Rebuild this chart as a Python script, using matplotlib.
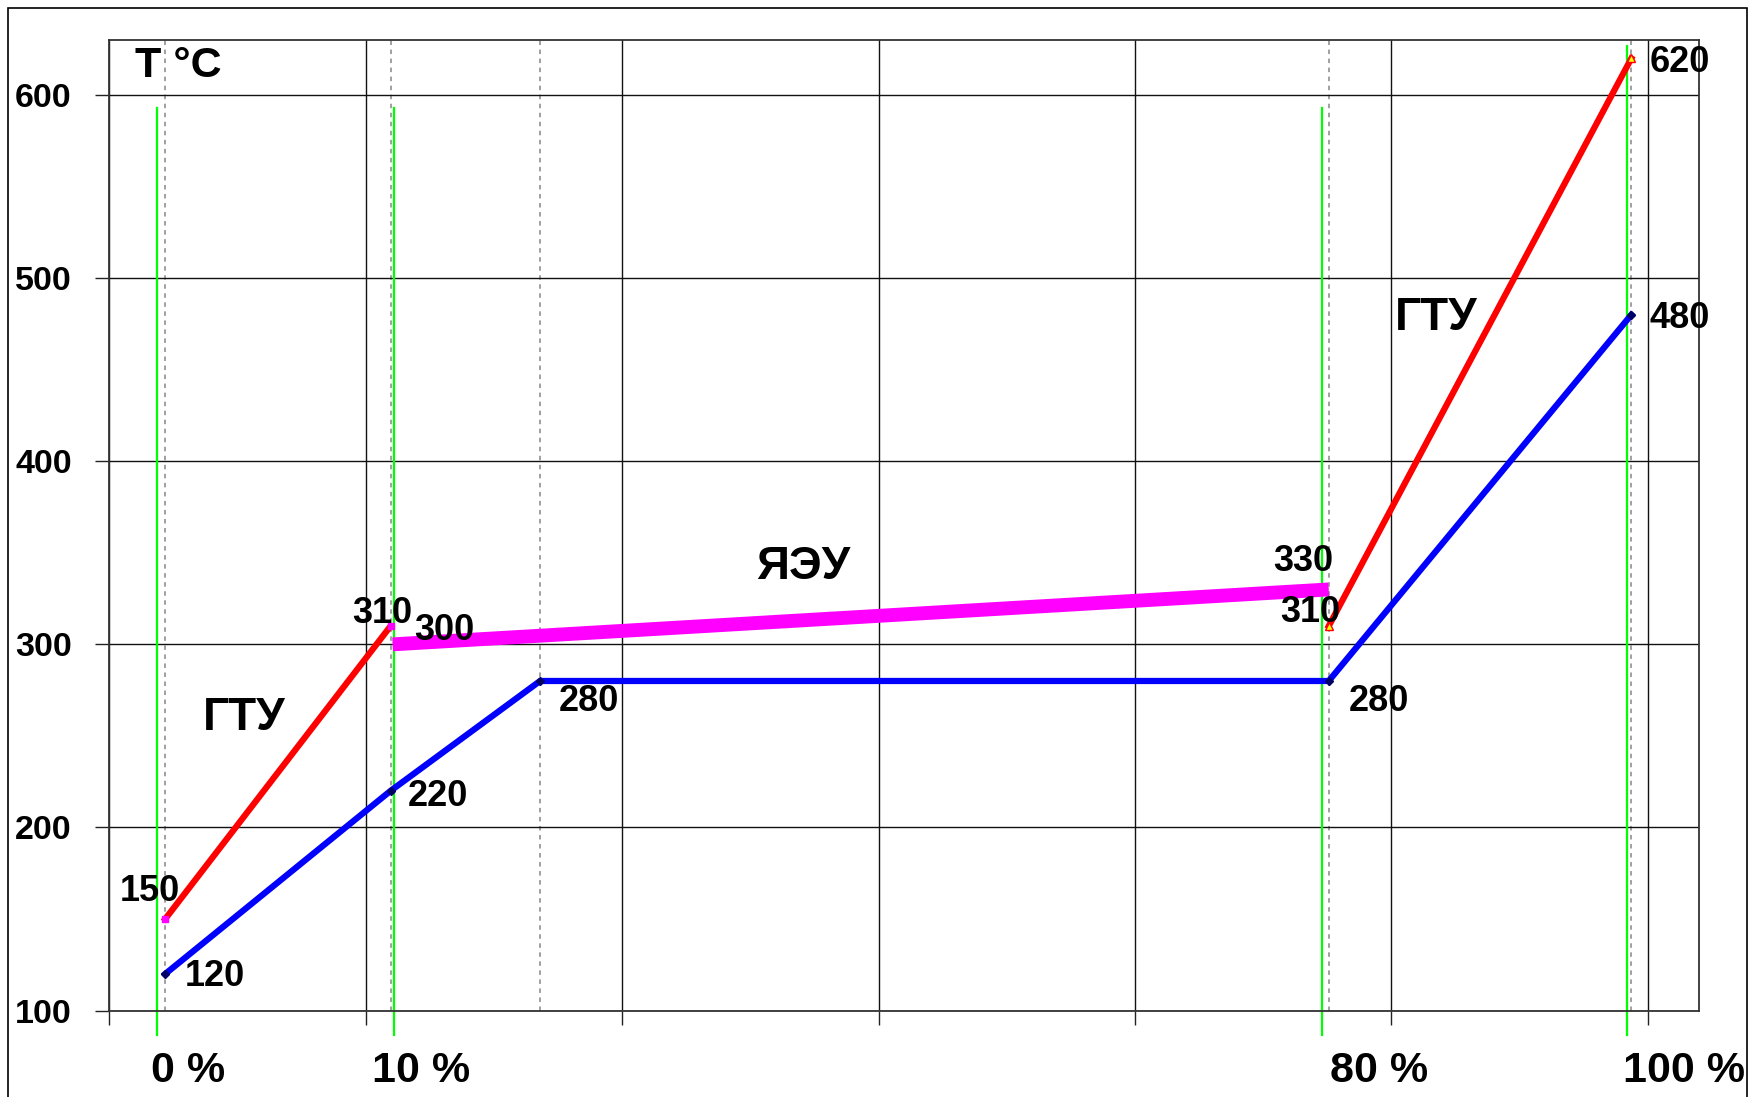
import numpy as np
import matplotlib.pyplot as plt
from matplotlib.patches import Rectangle
from matplotlib.transforms import blended_transform_factory

plt.rcParams['font.family'] = ['Liberation Sans', 'DejaVu Sans']
plt.rcParams['font.weight'] = 'bold'

# x positions of the stations (one grid step = 1)
x_pts = [0.218, 1.097, 1.68, 4.756, 5.936]

gtu1_x = [x_pts[0], x_pts[1]]
gtu1_t = [150, 310]
yaeu_x = [1.105, x_pts[3]]
yaeu_t = [300, 330]
gtu2_x = [x_pts[3], x_pts[4]]
gtu2_t = [310, 620]
water_x = x_pts
water_t = [120, 220, 280, 280, 480]

green_x = [0.187, 1.11, 4.73, 5.919]
green_top = [593, 593, 593, 627]
green_bot = 86.6

pct_x = [0.161, 1.023, 4.761, 5.905]
pct_labels = ['0 %', '10 %', '80 %', '100 %']

# value labels: (x, y, text, dx, dy) offsets in points
val_labels = [
    (gtu1_x[0], gtu1_t[0], '150', -11, 20),
    (water_x[0], water_t[0], '120', 36, -2),
    (gtu1_x[1], gtu1_t[1], '310', -6, 9),
    (yaeu_x[0], yaeu_t[0], '300', 37, 10),
    (water_x[1], water_t[1], '220', 34, -4),
    (water_x[2], water_t[2], '280', 35, -15),
    (yaeu_x[1], yaeu_t[1], '330', -18, 20),
    (gtu2_x[0], gtu2_t[0], '310', -13, 10),
    (water_x[3], water_t[3], '280', 36, -15),
    (gtu2_x[1], gtu2_t[1], '620', 35, -3),
    (water_x[4], water_t[4], '480', 35, -3),
]

fig = plt.figure(figsize=(17.49, 10.97), dpi=100)
fig.patches.append(Rectangle((0.0043, -0.02), 0.9946, 1.0127, transform=fig.transFigure,
                             fill=False, ec='black', lw=1.2))
ax = fig.add_axes([0.0625, 0.0788, 0.9089, 0.8846])

ax.set_xlim(0, 6.2)
ax.set_ylim(100, 630)
ax.set_xticks(range(7))
ax.set_yticks(range(100, 601, 100))
ax.grid(True, color='#111111', lw=1.0, zorder=0)
ax.tick_params(direction='out', length=10, width=1, color='#222222', labelsize=24.5, pad=17,
               labelbottom=False)
for s in ax.spines.values():
    s.set_color('#333333')
    s.set_linewidth(1.3)

for x in x_pts:
    ax.axvline(x, color='#999999', lw=1.3, ls=(0, (2.5, 2.5)), zorder=1.5)
for gx, gt in zip(green_x, green_top):
    ax.plot([gx, gx], [green_bot, gt], color='#00ff00', lw=1.6, clip_on=False, zorder=2)

ax.plot(water_x, water_t, color='#0000ff', lw=4.5, marker='D', ms=4, mfc='#000066', mec='#000066',
        zorder=3)
ax.plot(gtu1_x, gtu1_t, color='#ff0000', lw=4.5, marker='s', ms=4, mfc='#ff00ff', mec='#ff00ff',
        zorder=3)
ax.plot(gtu2_x, gtu2_t, color='#ff0000', lw=4.5, marker='^', ms=6, mfc='#ffff00', mec='#ff0000',
        mew=1, zorder=3)
ax.plot(yaeu_x, yaeu_t, color='#ff00ff', lw=10, solid_capstyle='butt', zorder=3)

for x, y, t, dx, dy in val_labels:
    ax.annotate(t, (x, y), xytext=(dx, dy), textcoords='offset points', ha='center', va='center',
                fontsize=26, fontweight='bold')

ax.text(0.1, 616, 'T °C', fontsize=31, fontweight='bold', ha='left', va='center')
ax.text(0.365, 260, 'ГТУ', fontsize=33, fontweight='bold', ha='left', va='center')
ax.text(2.522, 342, 'ЯЭУ', fontsize=33, fontweight='bold', ha='left', va='center')
ax.text(5.012, 478, 'ГТУ', fontsize=33, fontweight='bold', ha='left', va='center')

trans = blended_transform_factory(ax.transData, ax.transAxes)
for px, lab in zip(pct_x, pct_labels):
    ax.text(px, -0.062, lab, transform=trans, fontsize=31, fontweight='bold', ha='left',
            va='center', clip_on=False)

fig.savefig('out.png', dpi=100)
